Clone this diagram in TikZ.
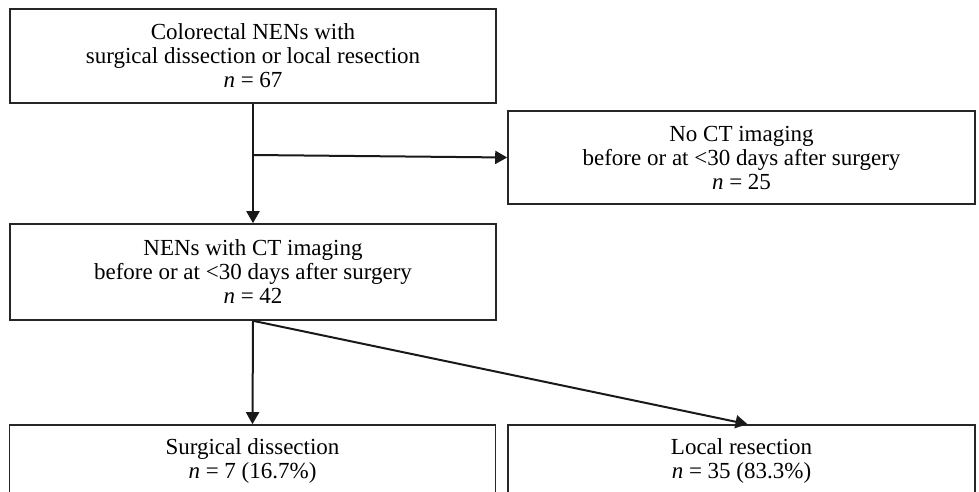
\documentclass[tikz,border=0pt]{standalone}
\usepackage{fontspec}
\setmainfont{Liberation Serif}
\usetikzlibrary{arrows.meta}
\begin{document}
\begin{tikzpicture}[
                    x=0.5pt, y=-0.5pt,
                    font=\fontsize{11.5}{12}\selectfont,
                    box/.style={draw=black!85, line width=0.8pt, align=center, inner sep=0pt},
                    wide/.style={box, minimum width=243pt},
                    side/.style={box, minimum width=233.5pt},
                    flow/.style={line width=1pt, black!90, -{Triangle[length=6pt,width=6.5pt]}}
                ]
                \clip (0,0) rectangle (979,492);

                % Top box
                \node[wide, minimum height=47pt] (all) at (253,56) {Colorectal NENs with\\surgical dissection or local resection\\\textit{n} = 67};

                % Excluded box
                \node[side, minimum height=46.5pt] (noct) at (741.5,157.5) {No CT imaging\\before or at <30 days after surgery\\\textit{n} = 25};

                % Included box
                \node[wide, minimum height=48pt] (ct) at (253,272) {NENs with CT imaging\\before or at <30 days after surgery\\\textit{n} = 42};

                % Bottom boxes (cut off by the page edge)
                \node[wide, minimum height=36pt] (surg) at (252.5,461) {Surgical dissection\\\textit{n} = 7 (16.7\%)};
                \node[side, minimum height=36pt] (local) at (741.5,461) {Local resection\\\textit{n} = 35 (83.3\%)};

                % connectors
                \coordinate (split) at (253,155);
                \draw[flow] (all.south) -- (ct.north);
                \draw[flow] (split) -- (noct.west);
                \draw[flow] (ct.south) -- (surg.north);
                \draw[flow] (ct.south) -- ([xshift=3pt]local.north);

            \end{tikzpicture}
\end{document}
